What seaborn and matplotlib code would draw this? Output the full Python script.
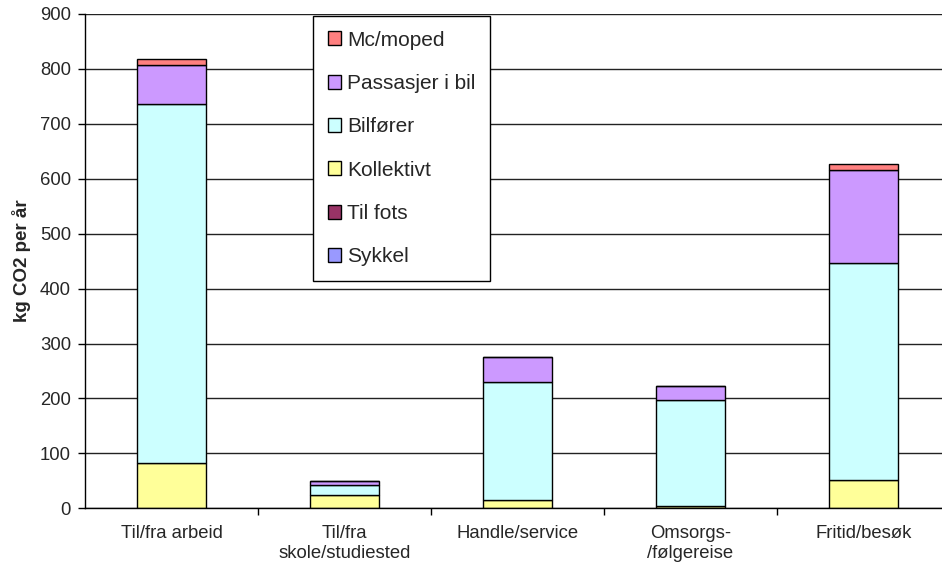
import matplotlib
matplotlib.use("Agg")
import matplotlib.pyplot as plt
import seaborn as sns
import numpy as np
import pandas as pd
from matplotlib.patches import Patch
from matplotlib.ticker import FixedLocator, MultipleLocator

# Trip purposes (x categories)
categories = ["Til/fra arbeid", "Til/fra\nskole/studiested", "Handle/service",
              "Omsorgs-\n/følgereise", "Fritid/besøk"]

# CO2 per mode, kg per year, stacked bottom to top
sykkel = [0, 0, 0, 0, 0]
til_fots = [0, 0, 0, 0, 0]
kollektivt = [83, 25, 16, 5, 51]
bilforer = [653, 17, 214, 193, 396]
passasjer = [71, 7, 46, 25, 169]
mc_moped = [11, 0, 0, 0, 10]

series_names = ["Sykkel", "Til fots", "Kollektivt", "Bilfører", "Passasjer i bil", "Mc/moped"]
series_values = [sykkel, til_fots, kollektivt, bilforer, passasjer, mc_moped]
series_colors = ["#9999FF", "#993366", "#FFFF99", "#CCFFFF", "#CC99FF", "#FF8080"]

sns.set_style("white")
plt.rcParams["font.family"] = ["Liberation Sans", "DejaVu Sans"]

fig = plt.figure(figsize=(9.42, 5.69), dpi=100)
ax = fig.add_axes([85 / 942, 60.7 / 569, 865 / 942, 494.3 / 569])

bottom = np.zeros(len(categories))
for name, vals, col in zip(series_names, series_values, series_colors):
    vals = np.asarray(vals, dtype=float)
    df = pd.DataFrame({"kategori": categories, "verdi": vals})
    sns.barplot(data=df, x="kategori", y="verdi", bottom=bottom, color=col,
                width=0.4, edgecolor="black", linewidth=1.0, saturation=1,
                ax=ax, zorder=3)
    bottom += vals

ax.set_xlim(-0.5, len(categories) - 0.5)
ax.set_ylim(0, 900)
ax.yaxis.set_major_locator(MultipleLocator(100))
ax.grid(axis="y", color="#222222", linewidth=1.0, zorder=0)
ax.grid(axis="x", visible=False)
# top border of the plot area is a lighter grey line
ax.get_ygridlines()[-1].set_color("#808080")
ax.get_ygridlines()[-1].set_linewidth(1.5)

for side in ["top", "right"]:
    ax.spines[side].set_visible(False)
for side in ["left", "bottom"]:
    ax.spines[side].set_color("black")
    ax.spines[side].set_linewidth(1.0)
    ax.spines[side].set_zorder(4)

ax.set_xlabel("")
ax.set_ylabel("kg CO2 per år", fontsize=13.5, fontweight="bold", labelpad=6.5)
ax.tick_params(axis="y", which="major", direction="out", length=5, width=1,
               color="black", labelsize=13.3, pad=5, left=True)
ax.tick_params(axis="x", which="major", length=0, labelsize=13.3, pad=12)
ax.xaxis.set_minor_locator(FixedLocator(np.arange(0.5, len(categories) - 0.5, 1)))
ax.tick_params(axis="x", which="minor", direction="out", length=5, width=1,
               color="black", bottom=True)

handles = [Patch(facecolor=c, edgecolor="black", linewidth=1.0, label=n)
           for n, c in zip(series_names, series_colors)][::-1]
leg = fig.legend(handles=handles, loc="upper left",
                 bbox_to_anchor=(313 / 942, 1 - 16 / 569),
                 fontsize=15, frameon=True, fancybox=False, framealpha=1,
                 edgecolor="black", borderaxespad=0, borderpad=0.7,
                 labelspacing=1.17, handlelength=0.65, handleheight=0.65,
                 handletextpad=0.3)
leg.get_frame().set_linewidth(1.0)

fig.savefig("out.png", dpi=100)
